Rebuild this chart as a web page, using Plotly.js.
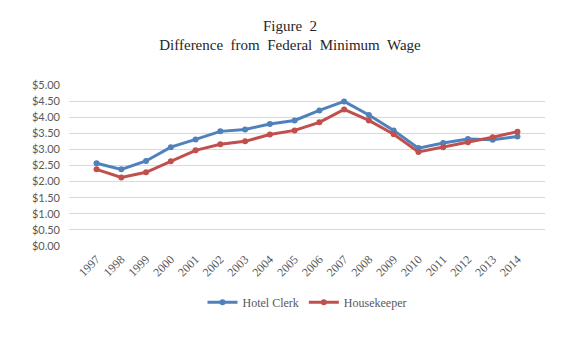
<!DOCTYPE html>
<html>
<head>
<meta charset="utf-8">
<script src="https://cdn.plot.ly/plotly-3.0.1.min.js"></script>
<style>html,body{margin:0;padding:0;background:#fff;}#chart{width:580px;height:342px;}</style>
</head>
<body>
<div id="chart"></div>
<script>
const years = ["1997","1998","1999","2000","2001","2002","2003","2004","2005","2006","2007","2008","2009","2010","2011","2012","2013","2014"];
const hotelClerk = [2.57,2.38,2.64,3.07,3.31,3.56,3.62,3.79,3.90,4.21,4.49,4.07,3.59,3.04,3.20,3.32,3.30,3.40];
const housekeeper = [2.38,2.13,2.29,2.63,2.97,3.16,3.25,3.46,3.59,3.84,4.24,3.90,3.47,2.92,3.07,3.22,3.38,3.55];
const yTicks = [0,0.5,1,1.5,2,2.5,3,3.5,4,4.5,5];
const yTickLabels = ["$0.00","$0.50","$1.00","$1.50","$2.00","$2.50","$3.00","$3.50","$4.00","$4.50","$5.00"];

const traces = [
  {x: years, y: hotelClerk, name: "Hotel Clerk", type: "scatter", mode: "lines+markers",
   line: {color: "#4F81BD", width: 3}, marker: {color: "#4F81BD", size: 6, symbol: "circle"}},
  {x: years, y: housekeeper, name: "Housekeeper", type: "scatter", mode: "lines+markers",
   line: {color: "#C0504D", width: 3}, marker: {color: "#C0504D", size: 6, symbol: "circle"}}
];
const layout = {
  width: 580, height: 342,
  margin: {l: 69, r: 35, t: 85, b: 96},
  paper_bgcolor: "#fff", plot_bgcolor: "#fff",
  title: {text: "Figure  2<br>Difference  from  Federal  Minimum  Wage",
          font: {family: "Liberation Serif, Times New Roman, serif", size: 15, color: "#262626"},
          x: 0.5, xanchor: "center", y: 0.91, yanchor: "top"},
  xaxis: {type: "category", tickangle: -45, showgrid: false, zeroline: false,
          showline: false, ticks: "", ticklabelstandoff: 3,
          tickfont: {family: "Liberation Serif, Times New Roman, serif", size: 12, color: "#595959"}},
  yaxis: {range: [0, 5], tickvals: yTicks, ticktext: yTickLabels, showgrid: true,
          gridcolor: "#D9D9D9", gridwidth: 1, zeroline: false, showline: false, ticks: "",
          ticklabelstandoff: 8,
          tickfont: {family: "Lato, Open Sans, sans-serif", size: 11, color: "#595959"}},
  showlegend: true,
  legend: {orientation: "h", x: 0.5, xanchor: "center", y: -0.35, yanchor: "middle",
           itemwidth: 30,
           font: {family: "Liberation Serif, Times New Roman, serif", size: 12, color: "#595959"}}
};
Plotly.newPlot("chart", traces, layout, {displayModeBar: false, staticPlot: true});
</script>
</body>
</html>
